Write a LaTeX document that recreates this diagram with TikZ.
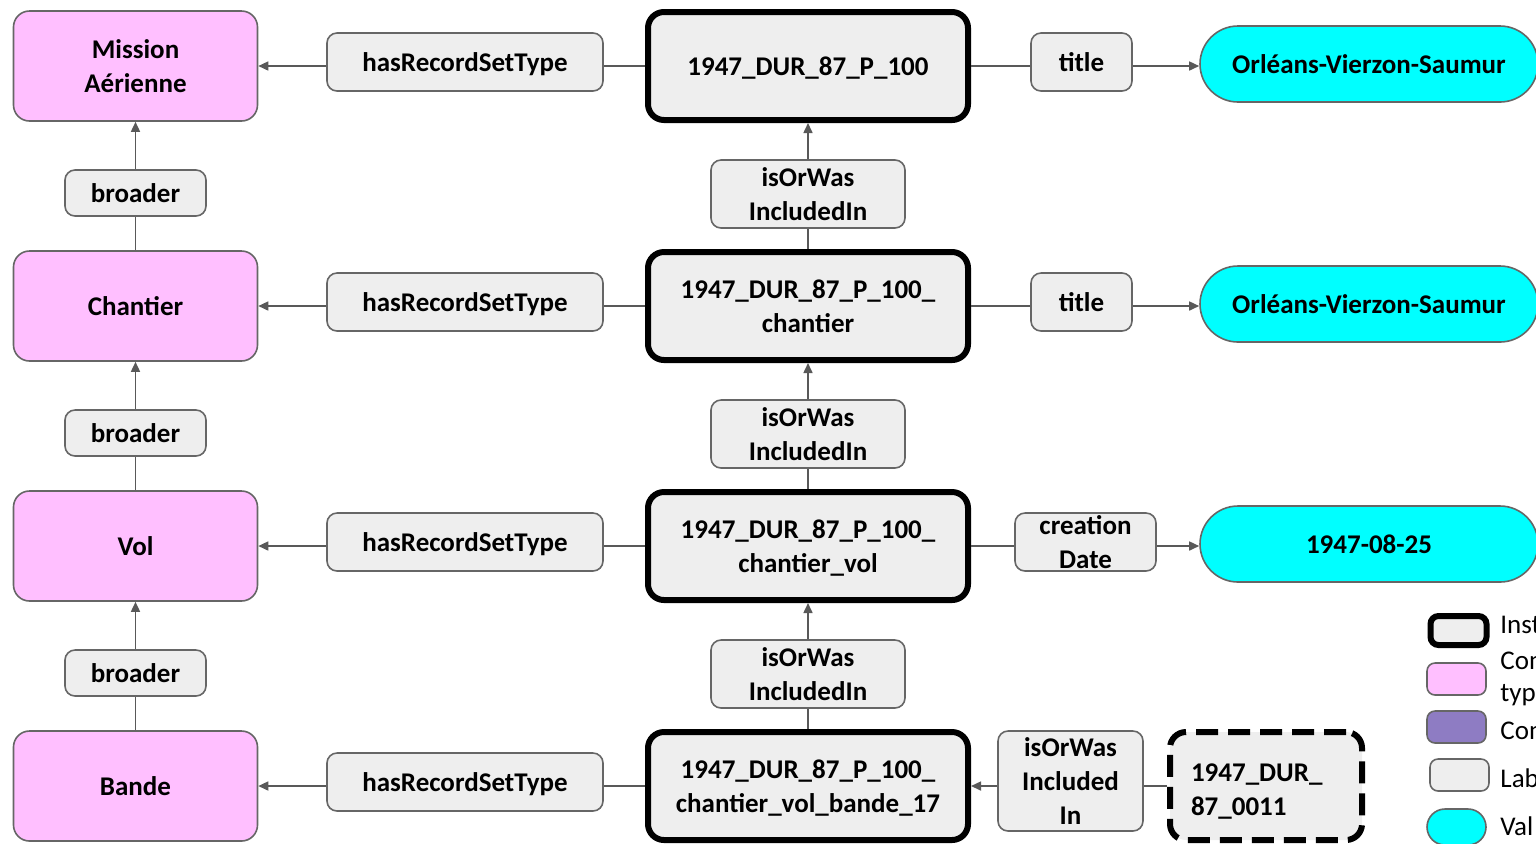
\documentclass[tikz,border=0pt]{standalone}
\usepackage{fontspec}
\setmainfont{Carlito}
\usetikzlibrary{arrows.meta}
\definecolor{lblfill}{HTML}{EEEEEE}
\definecolor{lbldraw}{HTML}{666666}
\definecolor{conpink}{HTML}{FFBFFF}
\definecolor{conpurple}{HTML}{8E7CC3}
\definecolor{valcyan}{HTML}{00FFFF}
\definecolor{edgegray}{HTML}{595959}
\tikzset{
  x=0.5pt,y=-0.5pt,
  every node/.style={font=\fontsize{13.5}{17}\selectfont\bfseries, align=center, inner sep=0pt, text depth=0pt},
  concept/.style={draw=lbldraw, fill=conpink, line width=0.8pt, rounded corners=8pt, minimum width=122pt, minimum height=55pt},
  instbox/.style={draw=black, fill=lblfill, line width=3pt, rounded corners=8pt, minimum width=160pt, minimum height=54pt},
  dashinst/.style={draw=black, fill=lblfill, line width=3pt, dash pattern=on 11pt off 5pt, rounded corners=8pt, minimum width=96pt, minimum height=54pt},
  lbl/.style={draw=lbldraw, fill=lblfill, line width=0.8pt, rounded corners=5pt},
  val/.style={draw=lbldraw, fill=valcyan, line width=0.8pt, rounded corners=19pt, minimum width=169pt, minimum height=38pt},
  conn/.style={draw=edgegray, line width=0.8pt},
  arr/.style={conn, -{Triangle[length=5pt,width=4.5pt]}},
  legtxt/.style={font=\fontsize{13.5}{16.5}\selectfont, anchor=west, align=left},
}
\begin{document}
\begin{tikzpicture}
\useasboundingbox (0,0) rectangle (1536,843);
\clip (0,0) rectangle (1536,843);
% concepts
\node[concept] (c1) at (135.5,66) {Mission\\Aérienne};
\node[concept] (c2) at (135.5,306) {Chantier};
\node[concept] (c3) at (135.5,546) {Vol};
\node[concept] (c4) at (135.5,786) {Bande};
% broader labels
\node[lbl, minimum width=70.5pt, minimum height=23pt] (b1) at (135.5,193) {broader};
\node[lbl, minimum width=70.5pt, minimum height=23pt] (b2) at (135.5,433) {broader};
\node[lbl, minimum width=70.5pt, minimum height=23pt] (b3) at (135.5,673) {broader};
% hasRecordSetType labels
\node[lbl, minimum width=138pt, minimum height=29pt] (h1) at (465,62) {hasRecordSetType};
\node[lbl, minimum width=138pt, minimum height=29pt] (h2) at (465,302) {hasRecordSetType};
\node[lbl, minimum width=138pt, minimum height=29pt] (h3) at (465,542) {hasRecordSetType};
\node[lbl, minimum width=138pt, minimum height=29pt] (h4) at (465,782) {hasRecordSetType};
% instances
\node[instbox] (i1) at (808,66) {1947\_DUR\_87\_P\_100};
\node[instbox] (i2) at (808,306) {1947\_DUR\_87\_P\_100\_\\chantier};
\node[instbox] (i3) at (808,546) {1947\_DUR\_87\_P\_100\_\\chantier\_vol};
\node[instbox] (i4) at (808,786) {1947\_DUR\_87\_P\_100\_\\chantier\_vol\_bande\_17};
% isOrWasIncludedIn labels
\node[lbl, minimum width=97pt, minimum height=34pt] (w1) at (808,194) {isOrWas\\IncludedIn};
\node[lbl, minimum width=97pt, minimum height=34pt] (w2) at (808,434) {isOrWas\\IncludedIn};
\node[lbl, minimum width=97pt, minimum height=34pt] (w3) at (808,674) {isOrWas\\IncludedIn};
% title / creationDate labels
\node[lbl, minimum width=50.5pt, minimum height=29pt] (t1) at (1081.5,62) {title};
\node[lbl, minimum width=50.5pt, minimum height=29pt] (t2) at (1081.5,302) {title};
\node[lbl, minimum width=70.5pt, minimum height=29pt] (t3) at (1085.5,542) {creation\\Date};
% values
\node[val] (v1) at (1369,64) {Orléans-Vierzon-Saumur};
\node[val] (v2) at (1369,304) {Orléans-Vierzon-Saumur};
\node[val] (v3) at (1369,544) {1947-08-25};
% bottom right
\node[lbl, minimum width=72.5pt, minimum height=50pt] (w4) at (1070.5,781) {isOrWas\\Included\\In};
\node[dashinst, text width=75pt, align=left, text depth=13pt] (d1) at (1266,786) {1947\_DUR\_\\87\_0011};
% connectors: hasRecordSetType
\draw[conn] (i1.west) -- (h1.east |- i1.west);
\draw[arr] (h1.west |- c1.east) -- (c1.east);
\draw[conn] (i2.west) -- (h2.east |- i2.west);
\draw[arr] (h2.west |- c2.east) -- (c2.east);
\draw[conn] (i3.west) -- (h3.east |- i3.west);
\draw[arr] (h3.west |- c3.east) -- (c3.east);
\draw[conn] (i4.west) -- (h4.east |- i4.west);
\draw[arr] (h4.west |- c4.east) -- (c4.east);
% broader
\draw[conn] (c2.north) -- (b1.south);
\draw[arr] (b1.north) -- (c1.south);
\draw[conn] (c3.north) -- (b2.south);
\draw[arr] (b2.north) -- (c2.south);
\draw[conn] (c4.north) -- (b3.south);
\draw[arr] (b3.north) -- (c3.south);
% isOrWasIncludedIn
\draw[conn] (i2.north) -- (w1.south);
\draw[arr] (w1.north) -- (i1.south);
\draw[conn] (i3.north) -- (w2.south);
\draw[arr] (w2.north) -- (i2.south);
\draw[conn] (i4.north) -- (w3.south);
\draw[arr] (w3.north) -- (i3.south);
% title / date
\draw[conn] (i1.east) -- (t1.west |- i1.east);
\draw[arr] (t1.east |- i1.east) -- (v1.west |- i1.east);
\draw[conn] (i2.east) -- (t2.west |- i2.east);
\draw[arr] (t2.east |- i2.east) -- (v2.west |- i2.east);
\draw[conn] (i3.east) -- (t3.west |- i3.east);
\draw[arr] (t3.east |- i3.east) -- (v3.west |- i3.east);
% bottom
\draw[conn] (d1.west) -- (w4.east |- d1.west);
\draw[arr] (w4.west |- d1.west) -- (i4.east);
% legend
\node[instbox, minimum width=28pt, minimum height=14.5pt, rounded corners=4pt] (l1) at (1458.5,630.5) {};
\node[concept, minimum width=29.5pt, minimum height=16pt, rounded corners=4pt] (l2) at (1456.5,679) {};
\node[concept, fill=conpurple, minimum width=29.5pt, minimum height=16pt, rounded corners=4pt] (l3) at (1456.5,727) {};
\node[lbl, minimum width=29.5pt, minimum height=16pt, rounded corners=4pt] (l4) at (1459.5,775) {};
\node[val, minimum width=29.5pt, minimum height=18pt, rounded corners=9pt] (l5) at (1456.5,827) {};
\node[legtxt] (lt1) at (1500,625) {Inst};
\node[legtxt, font=\fontsize{13.5}{16}\selectfont] (lt2) at (1500,677) {Con\\typ};
\node[legtxt] (lt3) at (1500,731) {Con};
\node[legtxt] (lt4) at (1500,778) {Lab};
\node[legtxt] (lt5) at (1500,826) {Val};
\end{tikzpicture}
\end{document}
